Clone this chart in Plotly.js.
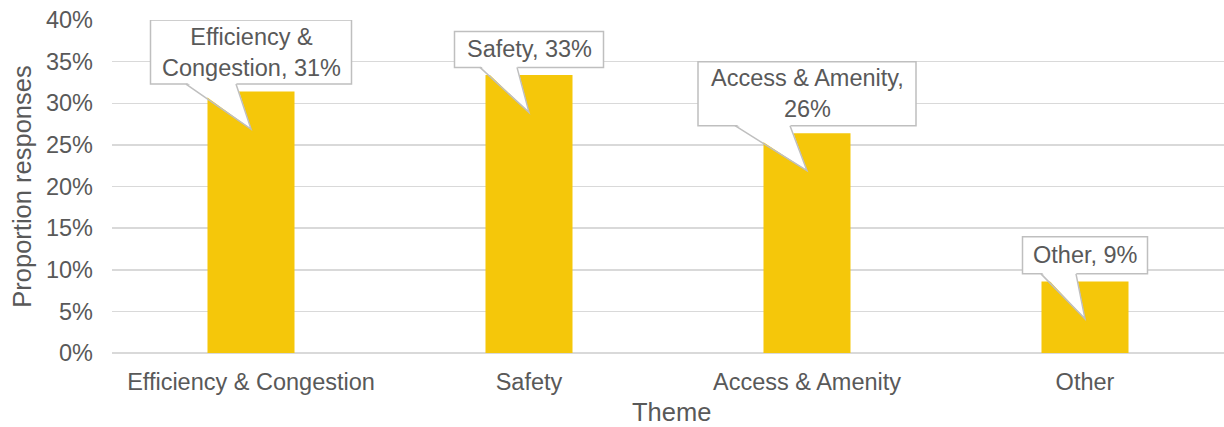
<!DOCTYPE html>
<html>
<head>
<meta charset="utf-8">
<script src="https://cdn.plot.ly/plotly-3.0.1.min.js"></script>
<style>html,body{margin:0;padding:0;background:#fff;}#chart{width:1224px;height:427px;}</style>
</head>
<body>
<div id="chart"></div>
<script>
// ---- data ----
var categories = ["Efficiency & Congestion", "Safety", "Access & Amenity", "Other"];
var proportions = [31.4, 33.4, 26.4, 8.6];
var calloutLabels = ["Efficiency &<br>Congestion, 31%", "Safety, 33%", "Access & Amenity,<br>26%", "Other, 9%"];
var yTickVals = [0, 5, 10, 15, 20, 25, 30, 35, 40];
var yTickText = ["0%", "5%", "10%", "15%", "20%", "25%", "30%", "35%", "40%"];
var xTitle = "Theme";
var yTitle = "Proportion responses";

// ---- callout styling (pixels) ----
var boxW = [201, 149, 218, 125];
var boxH = [64, 36, 64, 37];
var tailL = [-65, -49, -72, -44];
var tailR = [-15, -12, -17, -9];
var tailDrop = 4.5;   // tip sits this far (data units) below bar top
var boxGap = 45;      // box bottom sits this many px above tip

var FONT = "Liberation Sans, Arial, sans-serif";
var TXT = "#595959";
var BORDER = "#bfbfbf";

var shapes = [];
var annotations = [];
categories.forEach(function (c, i) {
  var tip = proportions[i] - tailDrop;
  var hw = boxW[i] / 2;
  var common = {xref: "x", yref: "y", xsizemode: "pixel", ysizemode: "pixel", xanchor: c, yanchor: tip, layer: "above"};
  shapes.push(Object.assign({}, common, {
    type: "rect", x0: -hw, x1: hw, y0: boxGap, y1: boxGap + boxH[i],
    fillcolor: "#ffffff", line: {color: BORDER, width: 1.5}
  }));
  shapes.push(Object.assign({}, common, {
    type: "path",
    path: "M " + tailL[i] + "," + (boxGap + 2) + " L 0,0 L " + tailR[i] + "," + (boxGap + 2) + " Z",
    fillcolor: "#ffffff", line: {width: 0}
  }));
  shapes.push(Object.assign({}, common, {
    type: "path",
    path: "M " + tailL[i] + "," + boxGap + " L 0,0 L " + tailR[i] + "," + boxGap,
    fillcolor: "rgba(0,0,0,0)", line: {color: BORDER, width: 1.5}
  }));
  annotations.push({
    xref: "x", yref: "y", x: c, y: tip, showarrow: false,
    xanchor: "center", yanchor: "middle", yshift: boxGap + boxH[i] / 2,
    text: calloutLabels[i], align: "center",
    font: {family: FONT, size: 23.5, color: TXT}
  });
});

// x-axis title drawn as annotation so it can sit lower than the title standoff allows
annotations.push({
  xref: "paper", yref: "paper", x: 0.5, y: 0, xshift: 3, yshift: -59,
  xanchor: "center", yanchor: "middle", showarrow: false, borderpad: 0,
  text: xTitle, font: {family: FONT, size: 25.5, color: TXT}
});

var trace = {
  type: "bar",
  x: categories,
  y: proportions,
  marker: {color: "#F5C70A"},
  hoverinfo: "none"
};

var layout = {
  width: 1224, height: 427,
  margin: {l: 112, r: 0, t: 20, b: 74},
  paper_bgcolor: "#ffffff", plot_bgcolor: "#ffffff",
  bargap: 0.687,
  showlegend: false,
  font: {family: FONT, color: TXT},
  xaxis: {
    type: "category",
    tickfont: {family: FONT, size: 23.5, color: TXT},
    ticklabelstandoff: 12,
    showgrid: false, zeroline: false, showline: false, ticks: ""
  },
  yaxis: {
    range: [0, 40],
    tickvals: yTickVals, ticktext: yTickText,
    tickfont: {family: FONT, size: 23.5, color: TXT},
    ticklabelstandoff: 18,
    showgrid: true, gridcolor: "#d9d9d9", gridwidth: 1.5,
    zeroline: true, zerolinecolor: "#d9d9d9", zerolinewidth: 1.5,
    showline: false, ticks: "",
    title: {text: yTitle, font: {family: FONT, size: 25.5, color: TXT}, standoff: 7}
  },
  shapes: shapes,
  annotations: annotations
};

Plotly.newPlot("chart", [trace], layout, {staticPlot: true, displayModeBar: false});
</script>
</body>
</html>
